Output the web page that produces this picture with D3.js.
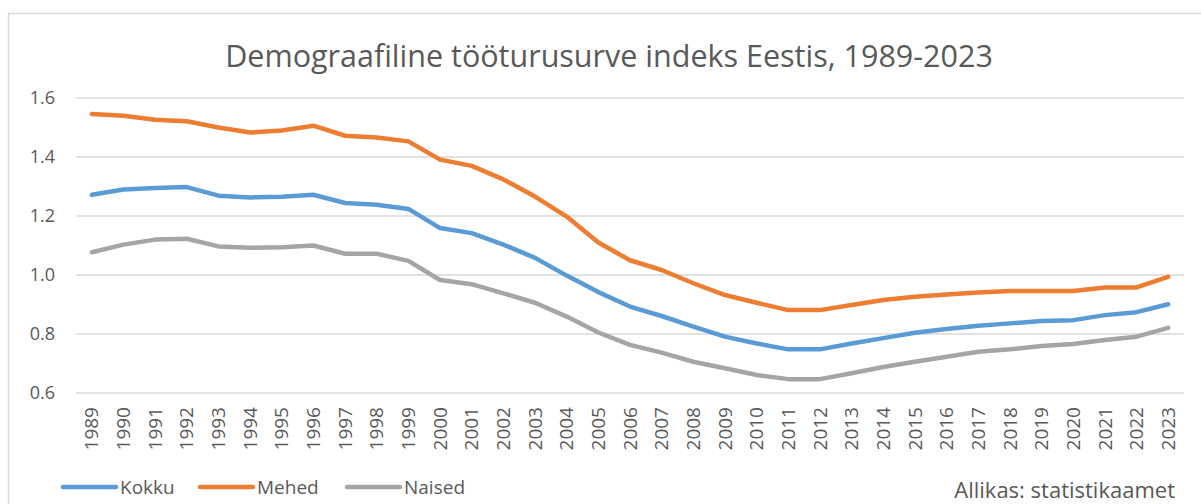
<!DOCTYPE html>
<html>
<head>
<meta charset="utf-8">
<script src="https://cdn.jsdelivr.net/npm/d3@7"></script>
<style>
  body { margin: 0; background: #fff; }
  svg { display: block; font-family: "Open Sans", sans-serif; }
</style>
</head>
<body>
<svg id="chart" width="1201" height="504"></svg>
<script>
// values
var years = ["1989","1990","1991","1992","1993","1994","1995","1996","1997","1998",
  "1999","2000","2001","2002","2003","2004","2005","2006","2007","2008",
  "2009","2010","2011","2012","2013","2014","2015","2016","2017","2018",
  "2019","2020","2021","2022","2023"];
var kokku = [1.272,1.290,1.295,1.298,1.269,1.263,1.265,1.272,1.244,1.238,
  1.224,1.159,1.142,1.103,1.058,0.998,0.942,0.893,0.861,0.825,
  0.791,0.768,0.748,0.748,0.768,0.786,0.804,0.817,0.828,0.836,
  0.844,0.847,0.864,0.874,0.901];
var mehed = [1.546,1.540,1.526,1.521,1.500,1.483,1.490,1.506,1.472,1.466,
  1.453,1.391,1.370,1.324,1.266,1.198,1.110,1.050,1.017,0.972,
  0.932,0.906,0.881,0.881,0.898,0.915,0.926,0.934,0.941,0.946,
  0.946,0.946,0.958,0.958,0.994];
var naised = [1.077,1.103,1.120,1.123,1.097,1.092,1.094,1.100,1.072,1.072,
  1.048,0.983,0.969,0.938,0.906,0.859,0.805,0.763,0.737,0.706,
  0.684,0.661,0.647,0.647,0.667,0.688,0.706,0.723,0.740,0.748,
  0.759,0.766,0.780,0.791,0.821];
var yTicks = [0.6, 0.8, 1.0, 1.2, 1.4, 1.6];

var series = [
  { name: "Kokku", values: kokku, color: "#5b9bd5" },
  { name: "Mehed", values: mehed, color: "#ed7d31" },
  { name: "Naised", values: naised, color: "#a5a5a5" }
];

var svg = d3.select("#chart");
var textColor = "#595959";

// outer frame
svg.append("rect")
  .attr("x", 8.5).attr("y", 13.5)
  .attr("width", 1220).attr("height", 520)
  .attr("fill", "none").attr("stroke", "#d9d9d9").attr("stroke-width", 1.5);

// title
svg.append("text")
  .attr("x", 609).attr("y", 67)
  .attr("text-anchor", "middle")
  .attr("font-size", 30.5)
  .attr("fill", textColor)
  .text("Demograafiline tööturusurve indeks Eestis, 1989-2023");

var x = d3.scaleBand().domain(years).range([76, 1184]);
var y = d3.scaleLinear().domain([0.6, 1.6]).range([393, 98]);

// gridlines
svg.append("g")
  .selectAll("line")
  .data(yTicks)
  .join("line")
  .attr("x1", 76).attr("x2", 1184)
  .attr("y1", d => y(d)).attr("y2", d => y(d))
  .attr("stroke", "#d9d9d9").attr("stroke-width", 1.5);

// y axis labels
var yAxis = d3.axisLeft(y).tickValues(yTicks).tickFormat(d3.format(".1f")).tickSize(0).tickPadding(0);
var gy = svg.append("g").attr("transform", "translate(55,0)").call(yAxis);
gy.select(".domain").remove();
gy.selectAll("text").attr("font-size", 18).attr("fill", textColor).attr("font-family", "Open Sans");

// x axis labels, rotated
var xAxis = d3.axisBottom(x).tickSize(0).tickPadding(0);
var gx = svg.append("g").attr("transform", "translate(0,407)").call(xAxis);
gx.select(".domain").remove();
gx.selectAll("text")
  .attr("font-size", 19).attr("fill", textColor).attr("font-family", "Open Sans")
  .attr("transform", "rotate(-90)")
  .attr("text-anchor", "end")
  .attr("x", 0).attr("y", 0).attr("dy", "0.35em");

// lines
var line = d3.line()
  .x((d, i) => x(years[i]) + x.bandwidth() / 2)
  .y(d => y(d));

svg.append("g")
  .selectAll("path")
  .data(series)
  .join("path")
  .attr("fill", "none")
  .attr("stroke", d => d.color)
  .attr("stroke-width", 4.5)
  .attr("stroke-linejoin", "round")
  .attr("stroke-linecap", "round")
  .attr("d", d => line(d.values));

// legend
var legendX = [63, 200, 347];
var lg = svg.append("g")
  .selectAll("g")
  .data(series)
  .join("g")
  .attr("transform", (d, i) => "translate(" + legendX[i] + ",487)");
lg.append("line")
  .attr("x1", 0).attr("x2", 53)
  .attr("stroke", d => d.color).attr("stroke-width", 4.5).attr("stroke-linecap", "round");
lg.append("text")
  .attr("x", 57).attr("dy", "0.35em")
  .attr("font-size", 19).attr("fill", textColor)
  .text(d => d.name);

// source
svg.append("text")
  .attr("x", 1175).attr("y", 498)
  .attr("text-anchor", "end")
  .attr("font-size", 22)
  .attr("fill", textColor)
  .text("Allikas: statistikaamet");
</script>
</body>
</html>
